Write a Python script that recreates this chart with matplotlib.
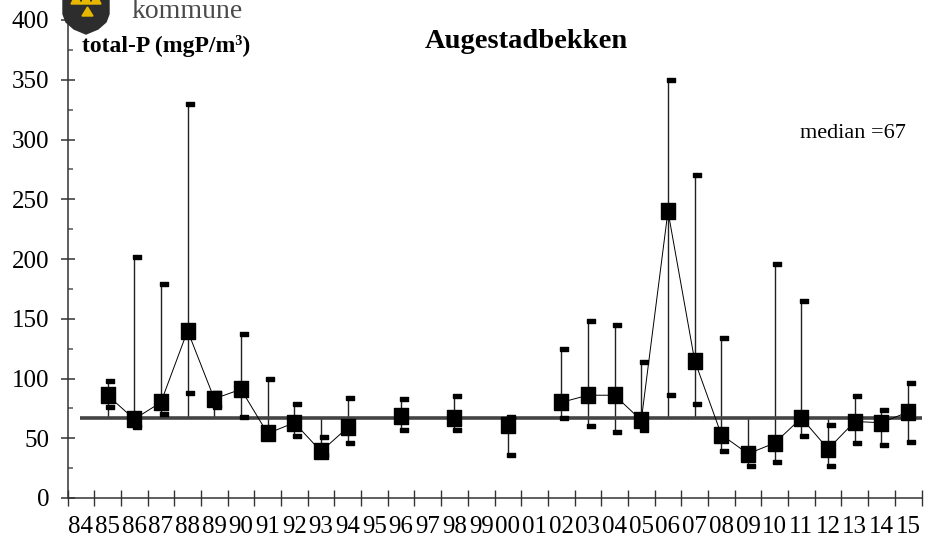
import matplotlib
matplotlib.use("Agg")
import matplotlib.pyplot as plt
import numpy as np
from matplotlib.patches import Polygon
from matplotlib.transforms import ScaledTranslation

nan = np.nan

aar = ["84", "85", "86", "87", "88", "89", "90", "91", "92", "93", "94", "95",
       "96", "97", "98", "99", "00", "01", "02", "03", "04", "05", "06", "07",
       "08", "09", "10", "11", "12", "13", "14", "15"]

# middelverdi per aar (firkanter)
middel = [nan, 86, 66, 80, 140, 83, 91, 54, 63, 39, 59, nan,
          69, nan, 67, nan, 61, nan, 80, 86, 86, 65, 240, 115,
          53, 37, 46, 67, 41, 64, 63, 72]
maks = [nan, 98, 202, 179, 330, 88, 137, 100, 79, 51, 84, nan,
        83, nan, 85, nan, 68, nan, 125, 148, 145, 114, 350, 270,
        134, 40, 196, 165, 61, 85, 74, 96]
minst = [nan, 76, 59, 70, 88, 76, 68, 50, 52, 36, 46, nan,
         57, nan, 57, nan, 36, nan, 67, 60, 55, 57, 86, 79,
         39, 27, 30, 52, 27, 46, 44, 47]
median = 67

plt.rcParams["font.family"] = ["Liberation Serif", "DejaVu Serif"]

fig = plt.figure(figsize=(9.25, 5.44), dpi=100)
ax = fig.add_axes([67.5 / 925, 46 / 544, 854 / 925, 478 / 544])
ax.set_facecolor("none")

x = np.arange(len(aar))
middel = np.array(middel, dtype=float)
maks = np.array(maks, dtype=float)
minst = np.array(minst, dtype=float)

# hoy-lav linjer, inkludert medianlinja
ok = ~np.isnan(middel)
lo = np.minimum(np.minimum(minst, middel), median)
hi = np.maximum(np.maximum(maks, middel), median)
ax.vlines(x[ok], lo[ok], hi[ok], color="#222222", lw=1.0, zorder=2)

ax.hlines(median, -0.05, len(aar) - 0.5, color="#444444", lw=2.6, zorder=3)

ax.plot(x, middel, color="black", lw=0.7, zorder=4)

firkant = [(-0.42, -0.5), (0.42, -0.5), (0.42, 0.5), (-0.42, 0.5), (-0.42, -0.5)]
ax.plot(x, middel, ls="none", marker=firkant, markersize=11.5,
        color="black", zorder=5)

strek = [(-0.5, -0.25), (0.5, -0.25), (0.5, 0.25), (-0.5, 0.25), (-0.5, -0.25)]
flytt = ax.transData + ScaledTranslation(0.027, 0, fig.dpi_scale_trans)
ax.plot(x, maks, ls="none", marker=strek, markersize=5.2, color="black",
        transform=flytt, zorder=6)
ax.plot(x, minst, ls="none", marker=strek, markersize=5.2, color="black",
        transform=flytt, zorder=6)

ax.set_xlim(-0.5, len(aar) - 0.5)
ax.set_ylim(0, 400)

for s in ["top", "right"]:
    ax.spines[s].set_visible(False)
for s in ["left", "bottom"]:
    ax.spines[s].set_color("#333333")
    ax.spines[s].set_linewidth(1.1)

ax.set_yticks(np.arange(0, 401, 50))
ax.set_yticks(np.arange(25, 400, 50), minor=True)
ax.tick_params(axis="y", which="major", direction="inout", length=10,
               width=1.1, color="#333333", labelsize=18, pad=8)
ax.tick_params(axis="y", which="minor", direction="in", length=3.6,
               width=1.1, color="#555555")

ax.set_xticks(np.arange(-0.5, len(aar), 1.0))
ax.set_xticklabels([])
ax.set_xticks(x, minor=True)
ax.set_xticklabels(aar, minor=True)
ax.tick_params(axis="x", which="major", direction="inout", length=11.5,
               width=1.0, color="#333333")
ax.tick_params(axis="x", which="minor", length=0, labelsize=18, pad=13)

fig.text(166 / 925, 1 - 52 / 544, "total-P (mgP/m³)", fontsize=17,
         fontweight="bold", ha="center", va="baseline")
fig.text(526 / 925, 1 - 48 / 544, "Augestadbekken", fontsize=20.5,
         fontweight="bold", ha="center", va="baseline")
fig.text(853 / 925, 1 - 138 / 544, "median =67", fontsize=16,
         ha="center", va="baseline")

# kommunevapen og "kommune" oppe til venstre
logo = fig.add_axes([62 / 925, 1 - 35 / 544, 48 / 925, 35 / 544])
logo.set_xlim(0, 48)
logo.set_ylim(35, 0)
logo.axis("off")
skjold = [(1, -3), (47, -3), (47, 14), (44, 22), (36, 29), (24, 34),
          (12, 29), (4, 22), (1, 14)]
logo.add_patch(Polygon(skjold, closed=True, color="#2d2d2d"))
for cx in [14, 24, 34]:
    logo.add_patch(Polygon([(cx - 5, 4), (cx + 5, 4), (cx, -6)],
                           closed=True, color="#e8b800"))
logo.add_patch(Polygon([(20, 16), (31, 16), (25.5, 7)], closed=True,
                       color="#e8b800"))
fig.text(132 / 925, 1 - 18 / 544, "kommune", fontsize=20, color="#4a4a4a",
         va="baseline")

fig.savefig("out.png", dpi=100)
